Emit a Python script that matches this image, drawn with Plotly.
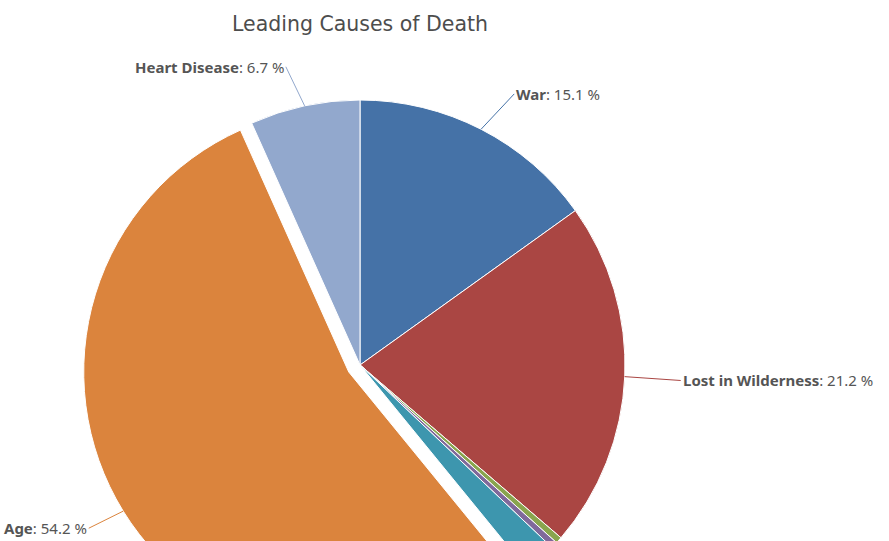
import math
import plotly.graph_objects as go

# Anteile der Todesursachen (Prozent), im Uhrzeigersinn ab 12 Uhr
causes = ["War", "Lost in Wilderness", "Drowning", "Starvation", "Disease", "Age", "Heart Disease"]
shares = [15.1, 21.2, 0.4, 0.4, 2.0, 54.2, 6.7]
colors = ["#4572A7", "#AA4643", "#89A54E", "#80699B", "#3D96AE", "#DB843D", "#92A8CD"]
pulls = [0, 0, 0, 0, 0, 0.05, 0]
labelled = ["War", "Lost in Wilderness", "Age", "Heart Disease"]

# Seite ist größer als das Fenster, damit der Kreis unten abgeschnitten wird
W, H = 889, 700
cx, cy, R = 360, 365, 265
box = R * (2 + 2 * max(pulls))

fig = go.Figure(go.Pie(
    labels=causes,
    values=shares,
    marker=dict(colors=colors, line=dict(color="white", width=1)),
    pull=pulls,
    sort=False,
    direction="clockwise",
    rotation=0,
    textinfo="none",
    hoverinfo="label+percent",
    domain=dict(x=[(cx - box / 2) / W, (cx + box / 2) / W],
                y=[1 - (cy + box / 2) / H, 1 - (cy - box / 2) / H]),
))

# Beschriftungen mit Verbindungslinien
total = sum(shares)
cum = 0
annotations = []
for name, val, col, p in zip(causes, shares, colors, pulls):
    mid = (cum + val / 2) / total
    cum += val
    if name not in labelled:
        continue
    a = 2 * math.pi * mid
    dx, dy = math.sin(a), -math.cos(a)
    hx, hy = cx + R * (1 + p) * dx, cy + R * (1 + p) * dy
    side = 1 if dx > 0 else -1
    lx = cx + (R + 42) * dx + (14 if side > 0 else -10)
    ly = cy + (R + 42) * dy + 2
    annotations.append(dict(
        x=hx / W, y=1 - hy / H, xref="paper", yref="paper",
        ax=lx - hx, ay=ly - hy,
        text="<b>%s</b>: %.1f %%" % (name, val / total * 100),
        showarrow=True, arrowhead=0, arrowwidth=1, arrowcolor=col, standoff=0,
        xanchor="left" if side > 0 else "right", yanchor="middle",
        font=dict(family="Noto Sans", size=15, color="#555555"),
    ))

fig.update_layout(
    width=W, height=H,
    margin=dict(l=0, r=0, t=0, b=0),
    paper_bgcolor="white",
    showlegend=False,
    title=dict(text="Leading Causes of Death", x=cx / W, y=1 - 24 / H,
               xanchor="center", yanchor="middle",
               font=dict(family="DejaVu Sans", size=20.5, color="#4d4d4d")),
    annotations=annotations,
)

fig.write_html("out.html", config={"displayModeBar": False},
               post_script="document.body.style.margin='0';document.body.style.overflow='hidden';")
